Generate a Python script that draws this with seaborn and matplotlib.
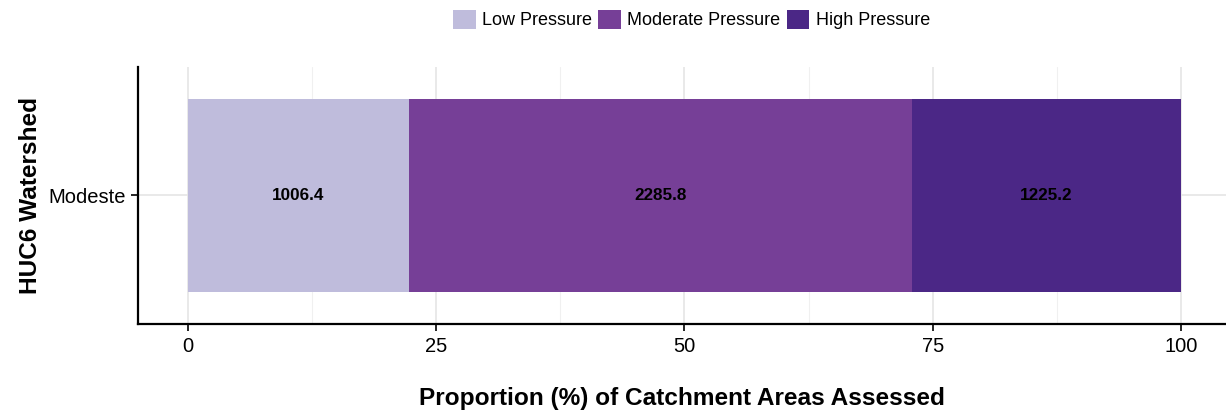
import pandas as pd
import seaborn as sns
import matplotlib.pyplot as plt
from matplotlib.patches import Patch

### data ###
watershed = ['Modeste']
categories = ['Low Pressure', 'Moderate Pressure', 'High Pressure']
areas = [1006.4, 2285.8, 1225.2]
colors = ['#bfbcdc', '#763f97', '#4b2786']

df = pd.DataFrame({'watershed': watershed * 3, 'pressure': categories, 'area': areas})
df['pct'] = df['area'] / df['area'].sum() * 100
df['left'] = df['pct'].cumsum() - df['pct']
df['right'] = df['left'] + df['pct']

sns.set_style('white')
plt.rcParams['font.family'] = ['Liberation Sans', 'DejaVu Sans']
plt.rcParams['text.color'] = 'black'
plt.rcParams['axes.labelcolor'] = 'black'
plt.rcParams['xtick.color'] = 'black'
plt.rcParams['ytick.color'] = 'black'

fig = plt.figure(figsize=(12.26, 4.11), dpi=100)
ax = fig.add_axes([138/1226, 1 - 324/411, 1 - 138/1226, 257/411])

# stack from right so each bar covers the ones after it
for i in reversed(range(len(df))):
    sns.barplot(x=[df['right'][i]], y=df['watershed'][i:i+1].tolist(), color=colors[i],
                width=0.9, saturation=1, ax=ax, orient='h', linewidth=0, edgecolor='none')
for i, row in df.iterrows():
    ax.text(row['left'] + row['pct'] / 2, 0, f"{row['area']:.1f}", ha='center', va='center',
            fontsize=12.3, fontweight='bold', color='black')

ax.set_xlim(-5, 104.5)
ax.set_ylim(0.6, -0.6)
ax.set_xticks([0, 25, 50, 75, 100])
ax.set_xticks([12.5, 37.5, 62.5, 87.5], minor=True)
ax.grid(True, which='major', color='#e5e5e5', lw=1.2)
ax.grid(True, which='minor', axis='x', color='#f0f0f0', lw=0.8)
ax.set_axisbelow(True)
for s in ['top', 'right']:
    ax.spines[s].set_visible(False)
for s in ['left', 'bottom']:
    ax.spines[s].set_color('black')
    ax.spines[s].set_linewidth(1.6)
ax.tick_params(axis='both', which='major', length=5, width=1.2, color='black', labelsize=14.5,
               bottom=True, left=True, pad=4)
ax.tick_params(axis='x', which='minor', length=0)
ax.set_xlabel('Proportion (%) of Catchment Areas Assessed', fontsize=17.6, fontweight='bold', labelpad=23)
ax.set_ylabel('HUC6 Watershed', fontsize=17.6, fontweight='bold', labelpad=4)

handles = [Patch(facecolor=c, edgecolor='none') for c in colors]
fig.legend(handles, categories, loc='center', bbox_to_anchor=(0.564, 0.953), ncol=3, frameon=False,
           fontsize=13, handlelength=1.25, handleheight=1.25, handletextpad=0.35, columnspacing=0.35)

fig.savefig('out.png', dpi=100)
